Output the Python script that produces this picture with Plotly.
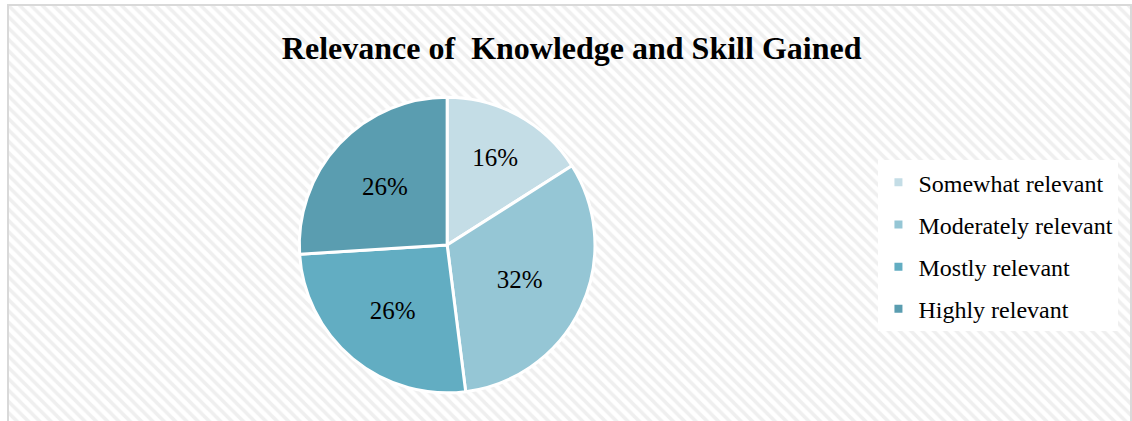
import plotly.graph_objects as go

# data
categories = ['Somewhat relevant', 'Moderately relevant', 'Mostly relevant', 'Highly relevant']
values = [16, 32, 26, 26]
colors = ['#C4DDE6', '#95C6D5', '#62ADC2', '#5A9DB0']

FONT = 'Liberation Serif, Times New Roman, serif'

fig = go.Figure()

# hatched chart background
fig.add_trace(go.Bar(
    x=[0], y=[1], width=1,
    xaxis='x', yaxis='y',
    marker=dict(color='white', line=dict(width=0),
                pattern=dict(shape='\\', fgcolor='#E0E0E0', bgcolor='white',
                             size=8, solidity=0.45)),
    hoverinfo='skip', showlegend=False,
))

fig.add_trace(go.Pie(
    labels=categories,
    values=values,
    sort=False,
    direction='clockwise',
    rotation=0,
    marker=dict(colors=colors, line=dict(color='white', width=3)),
    textinfo='percent',
    texttemplate='%{percent:.0%}',
    textposition='inside',
    insidetextorientation='horizontal',
    textfont=dict(family=FONT, size=25, color='black'),
    domain=dict(x=[0.259, 0.5227], y=[0.0675, 0.7807]),
    showlegend=False,
))

# legend entries (small squares, wide spacing)
for name, c in zip(categories, colors):
    fig.add_trace(go.Scatter(
        x=[None], y=[None], mode='markers', name=name, legendgroup=name,
        marker=dict(symbol='square', size=8, color=c),
    ))

fig.update_layout(
    width=1132, height=421,
    margin=dict(l=9, r=0, t=6, b=0),
    paper_bgcolor='white',
    plot_bgcolor='white',
    title=dict(text='Relevance of\u00a0 Knowledge and Skill Gained',
               x=0.505, xref='container', xanchor='center',
               y=0.886, yref='container', yanchor='middle',
               font=dict(family=FONT, size=32, color='black', weight='bold')),
    xaxis=dict(range=[-0.5, 0.5], visible=True, showticklabels=False,
               showgrid=False, zeroline=False, fixedrange=True,
               showline=True, mirror=True, linecolor='#D9D9D9', linewidth=2, ticks=''),
    yaxis=dict(range=[0, 1], visible=True, showticklabels=False,
               showgrid=False, zeroline=False, fixedrange=True,
               showline=True, mirror=True, linecolor='#D9D9D9', linewidth=2, ticks=''),
    bargap=0,
    legend=dict(x=0.7756, y=0.6286, xanchor='left', yanchor='top',
                bgcolor='white', font=dict(family=FONT, size=24, color='black'),
                tracegroupgap=8, itemwidth=30),
    showlegend=True,
)

fig.write_html('out.html', config={'displayModeBar': False},
               post_script="document.body.style.margin='0';")
